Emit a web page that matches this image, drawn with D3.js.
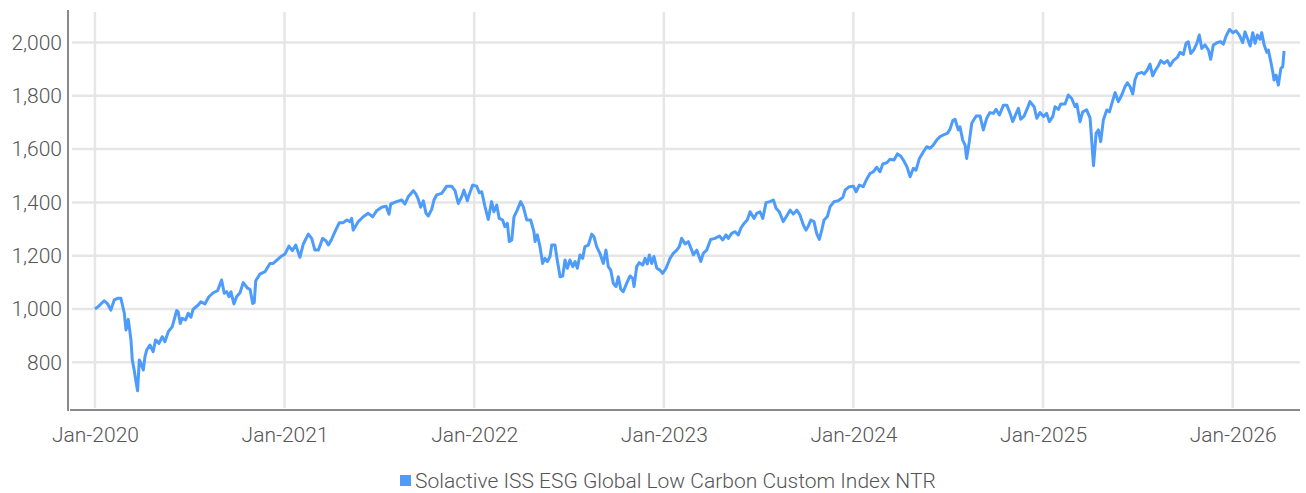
<!DOCTYPE html>
<head>
  <meta charset="utf-8">
  <title>Solactive ISS ESG Global Low Carbon Custom Index NTR</title>
  <style>
    body { margin: 0; background: #fff; }
    text { font-family: "Roboto", "DejaVu Sans Condensed", sans-serif; font-weight: 300; fill: #555; }
  </style>
</head>
<body>
<script src="https://cdn.jsdelivr.net/npm/d3@7"></script>
<script>
// series name + axis ticks
var seriesName = "Solactive ISS ESG Global Low Carbon Custom Index NTR";
var yTicks = [800, 1000, 1200, 1400, 1600, 1800, 2000];
var xTicks = [2020, 2021, 2022, 2023, 2024, 2025, 2026];
var xTickLabels = ["Jan-2020", "Jan-2021", "Jan-2022", "Jan-2023", "Jan-2024", "Jan-2025", "Jan-2026"];

// time as decimal year
var years = [
 2020.000,2020.017,2020.049,2020.067,2020.084,2020.102,2020.120,2020.137,2020.155,2020.164,
 2020.176,2020.190,2020.197,2020.207,2020.215,2020.225,2020.234,2020.243,2020.255,2020.264,
 2020.273,2020.290,2020.307,2020.320,2020.338,2020.355,2020.369,2020.387,2020.408,2020.431,
 2020.439,2020.450,2020.460,2020.478,2020.492,2020.506,2020.518,2020.545,2020.559,2020.580,
 2020.601,2020.624,2020.647,2020.668,2020.682,2020.695,2020.707,2020.717,2020.733,2020.747,
 2020.765,2020.782,2020.805,2020.818,2020.832,2020.840,2020.848,2020.870,2020.897,2020.923,
 2020.940,2020.964,2020.985,2021.002,2021.023,2021.041,2021.059,2021.081,2021.099,2021.125,
 2021.143,2021.160,2021.178,2021.201,2021.218,2021.231,2021.248,2021.266,2021.289,2021.310,
 2021.328,2021.345,2021.354,2021.362,2021.389,2021.415,2021.441,2021.465,2021.486,2021.512,
 2021.535,2021.551,2021.560,2021.591,2021.618,2021.635,2021.652,2021.679,2021.693,2021.705,
 2021.718,2021.732,2021.746,2021.758,2021.776,2021.788,2021.802,2021.829,2021.855,2021.881,
 2021.899,2021.916,2021.934,2021.946,2021.964,2021.973,2021.992,2022.013,2022.027,2022.040,
 2022.057,2022.074,2022.092,2022.104,2022.119,2022.132,2022.150,2022.162,2022.175,2022.185,
 2022.198,2022.210,2022.227,2022.245,2022.259,2022.277,2022.298,2022.315,2022.321,2022.333,
 2022.347,2022.361,2022.373,2022.386,2022.400,2022.409,2022.426,2022.438,2022.453,2022.467,
 2022.479,2022.491,2022.505,2022.520,2022.532,2022.544,2022.558,2022.572,2022.584,2022.602,
 2022.620,2022.632,2022.646,2022.663,2022.681,2022.695,2022.707,2022.720,2022.734,2022.748,
 2022.760,2022.773,2022.786,2022.804,2022.822,2022.836,2022.843,2022.857,2022.871,2022.889,
 2022.901,2022.913,2022.924,2022.936,2022.948,2022.963,2022.980,2022.994,2023.012,2023.033,
 2023.050,2023.068,2023.082,2023.094,2023.112,2023.129,2023.147,2023.156,2023.174,2023.195,
 2023.208,2023.226,2023.247,2023.270,2023.293,2023.311,2023.328,2023.340,2023.358,2023.376,
 2023.393,2023.406,2023.423,2023.440,2023.455,2023.476,2023.490,2023.507,2023.522,2023.539,
 2023.560,2023.578,2023.592,2023.609,2023.630,2023.648,2023.666,2023.683,2023.701,2023.718,
 2023.736,2023.750,2023.762,2023.775,2023.792,2023.806,2023.820,2023.833,2023.845,2023.862,
 2023.877,2023.898,2023.920,2023.944,2023.956,2023.978,2024.000,2024.014,2024.031,2024.052,
 2024.070,2024.088,2024.105,2024.123,2024.140,2024.155,2024.176,2024.193,2024.214,2024.232,
 2024.249,2024.263,2024.281,2024.299,2024.316,2024.330,2024.348,2024.369,2024.387,2024.404,
 2024.421,2024.439,2024.457,2024.474,2024.495,2024.509,2024.524,2024.536,2024.553,2024.562,
 2024.576,2024.589,2024.597,2024.611,2024.624,2024.647,2024.668,2024.685,2024.703,2024.720,
 2024.738,2024.752,2024.770,2024.791,2024.809,2024.826,2024.840,2024.852,2024.870,2024.882,
 2024.900,2024.917,2024.931,2024.953,2024.967,2024.984,2025.002,2025.019,2025.033,2025.051,
 2025.063,2025.081,2025.093,2025.116,2025.133,2025.151,2025.169,2025.178,2025.195,2025.209,
 2025.230,2025.248,2025.257,2025.266,2025.280,2025.292,2025.304,2025.318,2025.336,2025.350,
 2025.368,2025.380,2025.397,2025.415,2025.432,2025.445,2025.459,2025.473,2025.485,2025.497,
 2025.521,2025.533,2025.550,2025.564,2025.578,2025.591,2025.608,2025.621,2025.638,2025.656,
 2025.670,2025.687,2025.708,2025.722,2025.740,2025.754,2025.766,2025.779,2025.796,2025.811,
 2025.824,2025.837,2025.854,2025.872,2025.884,2025.898,2025.919,2025.937,2025.951,2025.965,
 2025.983,2026.001,2026.018,2026.035,2026.053,2026.065,2026.078,2026.092,2026.106,2026.118,
 2026.130,2026.144,2026.153,2026.166,2026.180,2026.188,2026.201,2026.212,2026.218,2026.229,
 2026.241,2026.254,2026.264,2026.271
];

var values = [
 1000,1009,1031,1019,996,1034,1040,1040,984,921,
 961,884,809,771,734,693,809,796,771,821,
 846,865,840,884,871,896,877,915,934,994,
 990,946,965,959,984,969,999,1015,1027,1019,
 1046,1061,1069,1109,1059,1065,1046,1065,1019,1046,
 1061,1099,1078,1074,1021,1024,1106,1131,1140,1171,
 1171,1186,1199,1206,1236,1219,1240,1194,1244,1281,
 1265,1221,1221,1265,1256,1240,1261,1290,1324,1324,
 1334,1328,1340,1296,1328,1346,1359,1346,1369,1382,
 1386,1356,1394,1403,1409,1394,1421,1444,1431,1412,
 1382,1406,1359,1349,1374,1409,1428,1434,1461,1461,
 1444,1396,1421,1446,1406,1428,1465,1461,1436,1440,
 1384,1336,1403,1365,1390,1340,1334,1309,1321,1253,
 1259,1346,1371,1403,1384,1334,1334,1290,1253,1278,
 1234,1171,1190,1178,1197,1240,1240,1184,1121,1124,
 1184,1153,1184,1159,1178,1153,1203,1190,1234,1240,
 1281,1271,1234,1209,1171,1221,1159,1146,1096,1084,
 1121,1074,1065,1096,1124,1115,1084,1159,1174,1165,
 1190,1169,1203,1171,1197,1153,1146,1134,1153,1190,
 1209,1221,1234,1265,1244,1253,1221,1203,1221,1178,
 1209,1221,1261,1265,1274,1259,1278,1265,1284,1290,
 1278,1303,1321,1334,1365,1340,1359,1365,1340,1399,
 1403,1409,1378,1365,1328,1349,1371,1356,1371,1353,
 1315,1296,1311,1334,1328,1284,1261,1296,1334,1346,
 1384,1403,1406,1419,1446,1459,1461,1440,1465,1459,
 1487,1509,1515,1532,1515,1544,1549,1562,1559,1582,
 1574,1559,1536,1496,1528,1521,1565,1590,1609,1603,
 1615,1634,1647,1653,1659,1674,1707,1712,1672,1684,
 1634,1615,1565,1628,1697,1724,1724,1672,1716,1737,
 1734,1749,1728,1765,1765,1734,1703,1724,1753,1712,
 1724,1753,1778,1759,1716,1737,1722,1734,1703,1722,
 1759,1749,1769,1769,1803,1790,1759,1769,1703,1740,
 1747,1716,1628,1538,1660,1672,1628,1709,1747,1740,
 1784,1812,1778,1803,1834,1849,1834,1807,1860,1882,
 1888,1882,1897,1919,1875,1894,1913,1932,1922,1932,
 1913,1932,1944,1963,1955,1997,2003,1959,1974,1997,
 2028,1978,1991,1972,1937,1991,2000,2003,1994,2024,
 2049,2037,2044,2028,2000,2040,2015,1987,2037,1997,
 2028,2012,2037,1991,1963,1972,1928,1888,1859,1878,
 1840,1903,1909,1969
];

var width = 1306, height = 493;
var plotLeft = 68, plotRight = 1300, plotTop = 10, plotBottom = 410;
var lineColor = "#4d9bfa";

var svg = d3.select("body").append("svg")
    .attr("width", width)
    .attr("height", height);

var x = d3.scaleLinear().domain([2019.858, 2026.355]).range([plotLeft, plotRight]);
var y = d3.scaleLinear().domain([621, 2122]).range([plotBottom, plotTop]);

// grid
svg.append("g").selectAll("line.h")
    .data(yTicks).enter().append("line")
    .attr("x1", plotLeft + 4).attr("x2", plotRight)
    .attr("y1", function(d) { return y(d); }).attr("y2", function(d) { return y(d); })
    .attr("stroke", "#e6e6e6").attr("stroke-width", 2.5);

svg.append("g").selectAll("line.v")
    .data(xTicks).enter().append("line")
    .attr("x1", function(d) { return x(d); }).attr("x2", function(d) { return x(d); })
    .attr("y1", plotTop + 2).attr("y2", plotBottom - 2)
    .attr("stroke", "#e6e6e6").attr("stroke-width", 2.5);

// axes
var yAxis = d3.axisLeft(y).tickValues(yTicks).tickSize(0).tickPadding(6)
    .tickFormat(d3.format(","));
var gy = svg.append("g").attr("transform", "translate(" + plotLeft + ",0)").call(yAxis);
gy.select(".domain").remove();
gy.selectAll("text").attr("font-size", 21).style("font-family", null).attr("font-family", null);

var xAxis = d3.axisBottom(x).tickValues(xTicks).tickSize(0).tickPadding(17)
    .tickFormat(function(d, i) { return xTickLabels[i]; });
var gx = svg.append("g").attr("transform", "translate(0," + plotBottom + ")").call(xAxis);
gx.select(".domain").remove();
gx.selectAll("text").attr("font-size", 21).attr("font-family", null);

svg.append("line")
    .attr("x1", plotLeft).attr("x2", plotLeft)
    .attr("y1", plotTop).attr("y2", plotBottom + 1)
    .attr("stroke", "#8a8a8a").attr("stroke-width", 2);
svg.append("line")
    .attr("x1", plotLeft + 2).attr("x2", plotRight)
    .attr("y1", plotBottom).attr("y2", plotBottom)
    .attr("stroke", "#8a8a8a").attr("stroke-width", 2);

// the series line
var line = d3.line()
    .x(function(d, i) { return x(years[i]); })
    .y(function(d) { return y(d); });

svg.append("path")
    .datum(values)
    .attr("d", line)
    .attr("fill", "none")
    .attr("stroke", lineColor)
    .attr("stroke-width", 3)
    .attr("stroke-linejoin", "round");

// legend
var legend = svg.append("g").attr("transform", "translate(400,481)");
legend.append("rect")
    .attr("x", 0).attr("y", -6).attr("width", 11).attr("height", 11)
    .attr("fill", lineColor);
legend.append("text")
    .attr("x", 15).attr("y", 0).attr("dy", "0.35em")
    .attr("font-size", 21)
    .text(seriesName);
</script>
</body>
